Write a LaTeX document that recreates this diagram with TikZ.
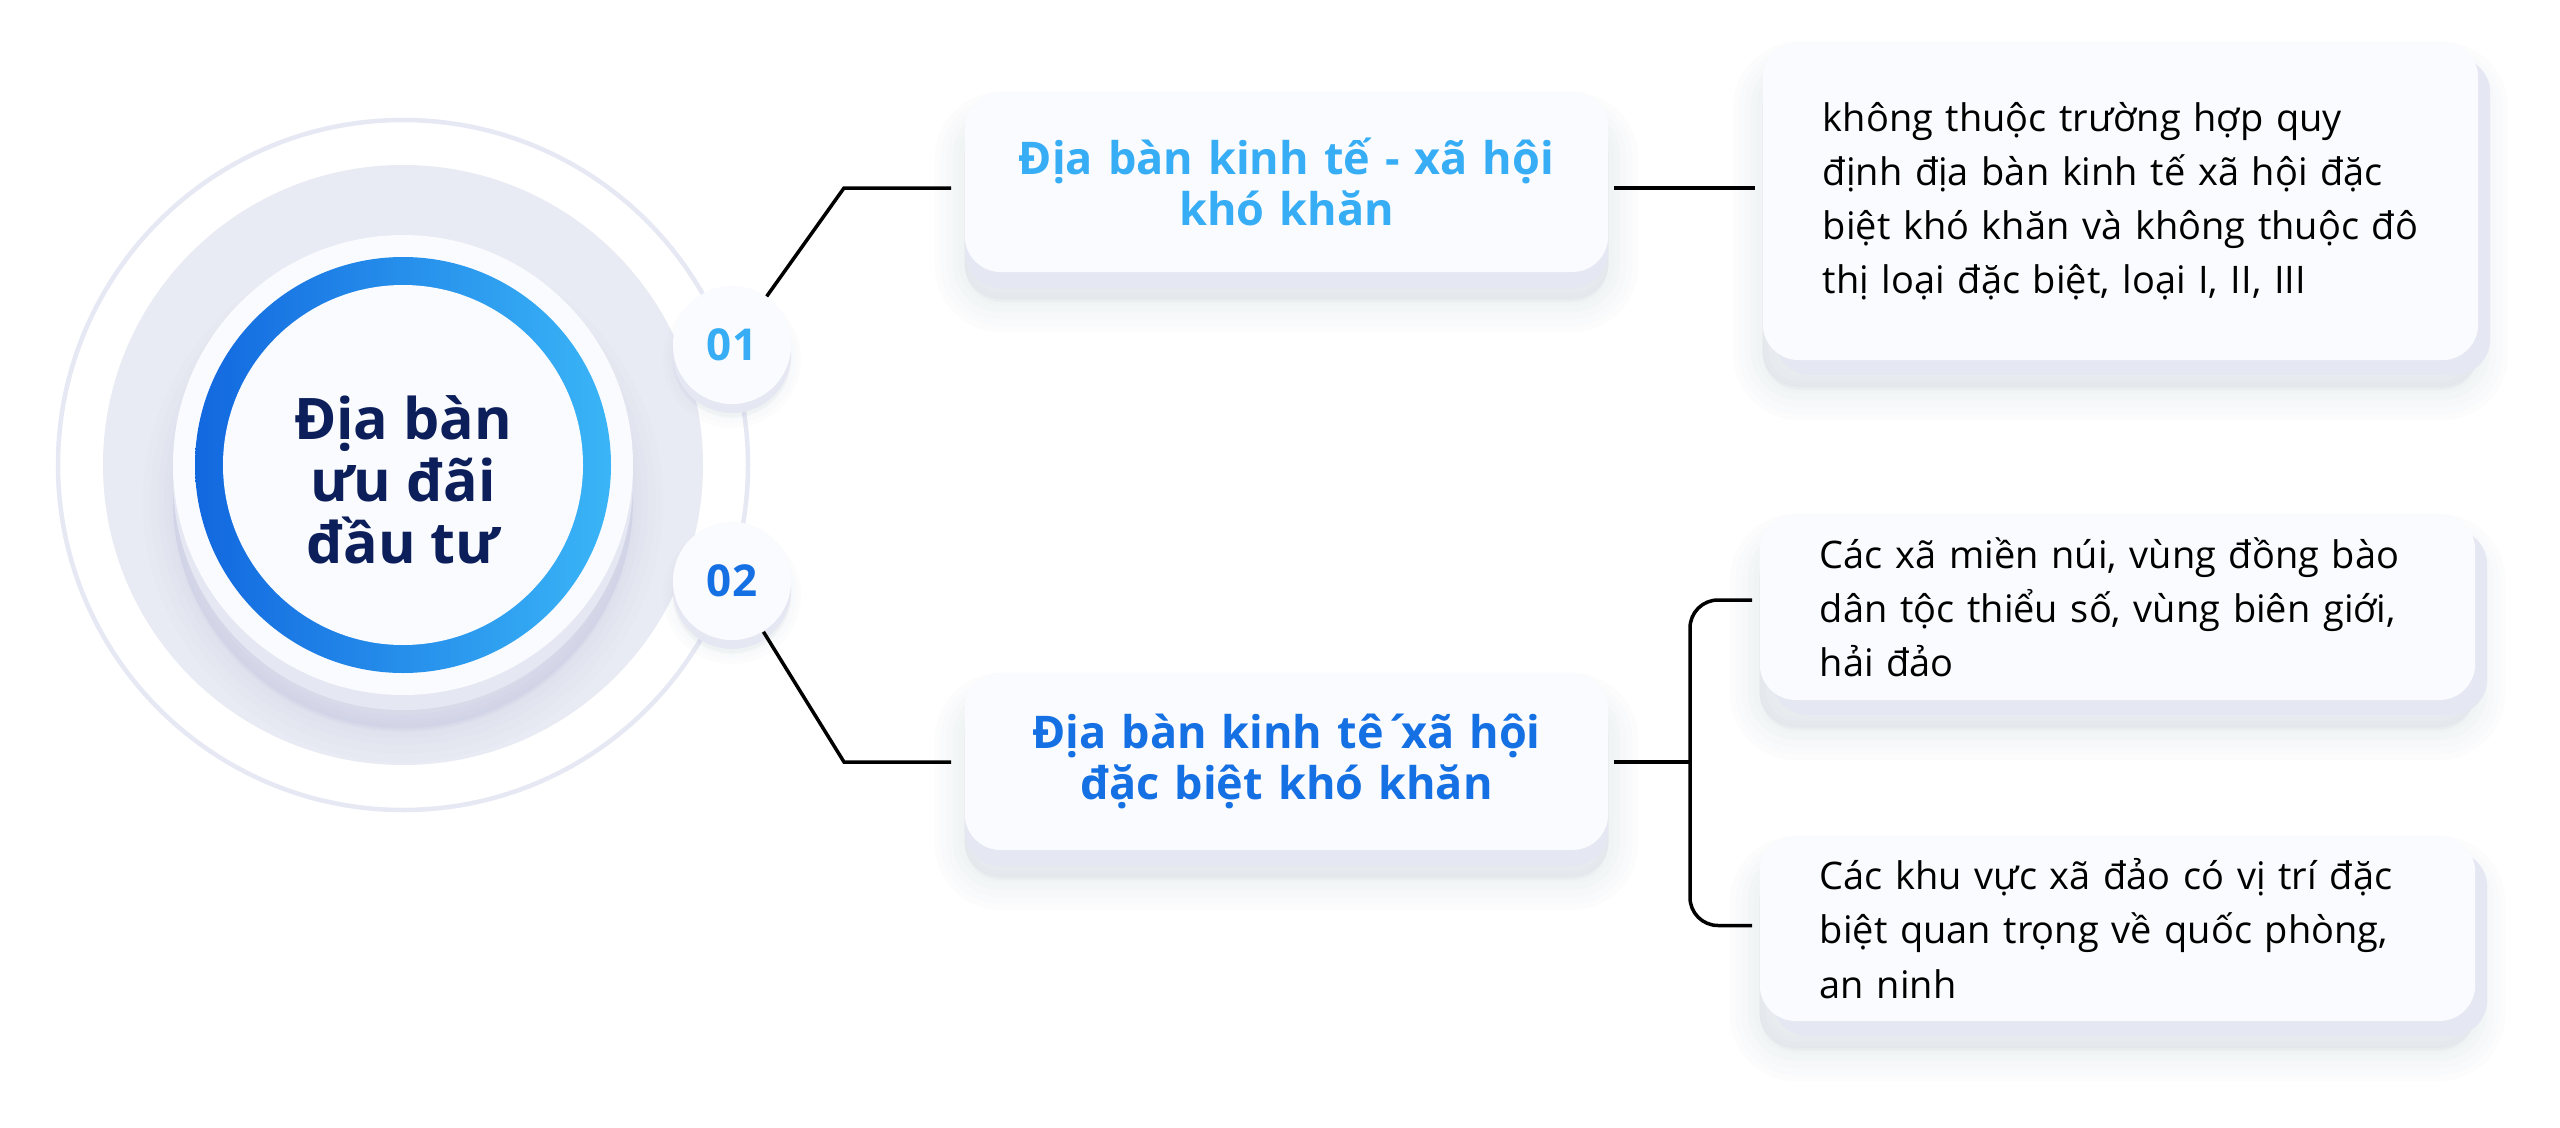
\documentclass[tikz,border=0pt]{standalone}
\usepackage{fontspec}
\setmainfont{Open Sans}
\usetikzlibrary{calc}
\definecolor{cardfill}{HTML}{FAFBFE}
\definecolor{lavc}{HTML}{E5E7F2}
\definecolor{grayd}{HTML}{E8EAF4}
\definecolor{ringc}{HTML}{E6E8F4}
\definecolor{shc}{HTML}{8E96BE}
\definecolor{navy}{HTML}{0C1F5B}
\definecolor{lb}{HTML}{36ADF4}
\definecolor{db}{HTML}{1570E3}
\definecolor{blA}{HTML}{1268DF}
\definecolor{blB}{HTML}{3AB5F7}
\begin{document}
\begin{tikzpicture}[x=0.01cm,y=-0.01cm,
  sh/.style 2 args={preaction={fill=shc, draw=shc, line width=#1, opacity=0.018, transform canvas={yshift=#2}}},
  softshadow/.style={sh={0.60cm}{-0.30cm}, sh={0.48cm}{-0.30cm}, sh={0.36cm}{-0.29cm},
    sh={0.24cm}{-0.28cm}, sh={0.12cm}{-0.27cm}, sh={0.01cm}{-0.26cm}},
  card/.style={softshadow, rounded corners=0.36cm, fill=cardfill, inner sep=0pt},
  titlecard/.style={card, minimum width=6.43cm, text width=6.1cm, align=center,
    font=\bfseries\fontsize{12.8}{14.6}\selectfont,
    preaction={fill=lavc, transform canvas={yshift=-0.16cm}}},
  textcard/.style={card, text width=5.95cm, inner xsep=0.6cm, inner ysep=0pt, align=left,
    font=\fontsize{10.8}{15.4}\selectfont,
    preaction={fill=lavc, transform canvas={shift={(0.12cm,-0.15cm)}}}},
  bubble/.style={circle, minimum size=1.18cm, inner sep=0pt, fill=cardfill,
    font=\bfseries\fontsize{12.5}{14}\selectfont,
    sh={0.20cm}{-0.14cm}, sh={0.12cm}{-0.13cm}, sh={0.04cm}{-0.12cm},
    preaction={fill=lavc, transform canvas={yshift=-0.09cm}}},
  conn/.style={draw=black, line width=0.035cm}
]
\useasboundingbox (0,0) rectangle (2560,1127);
\fill[white] (0,0) rectangle (2560,1127);

% central circle complex
\coordinate (C) at (403,465);
\draw[ringc, line width=0.045cm] (C) circle (345);
\fill[grayd] (C) circle (300);
\path[fill=lavc, sh={0.60cm}{-0.22cm}, sh={0.45cm}{-0.21cm}, sh={0.30cm}{-0.20cm},
    sh={0.18cm}{-0.19cm}, sh={0.08cm}{-0.18cm}, sh={0.01cm}{-0.17cm}]
  (403,480) circle (230);
\fill[cardfill] (C) circle (230);
\shade[left color=blA, right color=blB] (C) circle (208);
\fill[cardfill] (C) circle (180);
\node[font=\bfseries\fontsize{16.3}{17.6}\selectfont, text=navy, align=center] (ctr) at (403,480)
  {Địa bàn\\ưu đãi\\đầu tư};

% number bubbles
\node[bubble, text=lb] (n1) at (732,345) {01};
\node[bubble, text=db] (n2) at (732,581) {02};

% second level cards
\node[titlecard, minimum height=1.80cm, text=lb] (b1) at (1286.5,182)
  {Địa bàn kinh tế - xã hội\\khó khăn};
\node[titlecard, minimum height=1.77cm, text=db] (b2) at (1286.5,761.5)
  {Địa bàn kinh tê\hspace{0.25em}\makebox[0.14em][c]{´}xã hội\\đặc biệt khó khăn};

% third level cards
\node[textcard, minimum height=3.18cm] (r1) at (2120.5,201)
  {\mbox{không thuộc trường hợp quy}\\\mbox{định địa bàn kinh tế xã hội đặc}\\\mbox{biệt khó khăn và không thuộc đô}\\\mbox{thị loại đặc biệt, loại I, II, III}};
\node[textcard, minimum height=1.86cm] (r2) at (2117.5,607)
  {\mbox{Các xã miền núi, vùng đồng bào}\\\mbox{dân tộc thiểu số, vùng biên giới,}\\hải đảo};
\node[textcard, minimum height=1.85cm] (r3) at (2117.5,928.5)
  {\mbox{Các khu vực xã đảo có vị trí đặc}\\\mbox{biệt quan trọng về quốc phòng,}\\an ninh};

% connectors
\coordinate (k1) at (844,188);
\coordinate (k2) at (844,762);
\coordinate (j) at (1690,762);
\draw[conn] (n1) -- (k1) -- ($(b1.west |- k1)+(-13,0)$);
\draw[conn] (n2) -- (k2) -- ($(b2.west |- k2)+(-13,0)$);
\draw[conn] ($(b1.east |- k1)+(5,0)$) -- ($(r1.west |- k1)+(-7,0)$);
\draw[conn] ($(b2.east |- j)+(5,0)$) -- (j);
\draw[conn, rounded corners=0.28cm] ($(r2.west)+(-7,-7)$) -| (j) |- ($(r3.west)+(-7,-3)$);
\end{tikzpicture}
\end{document}
